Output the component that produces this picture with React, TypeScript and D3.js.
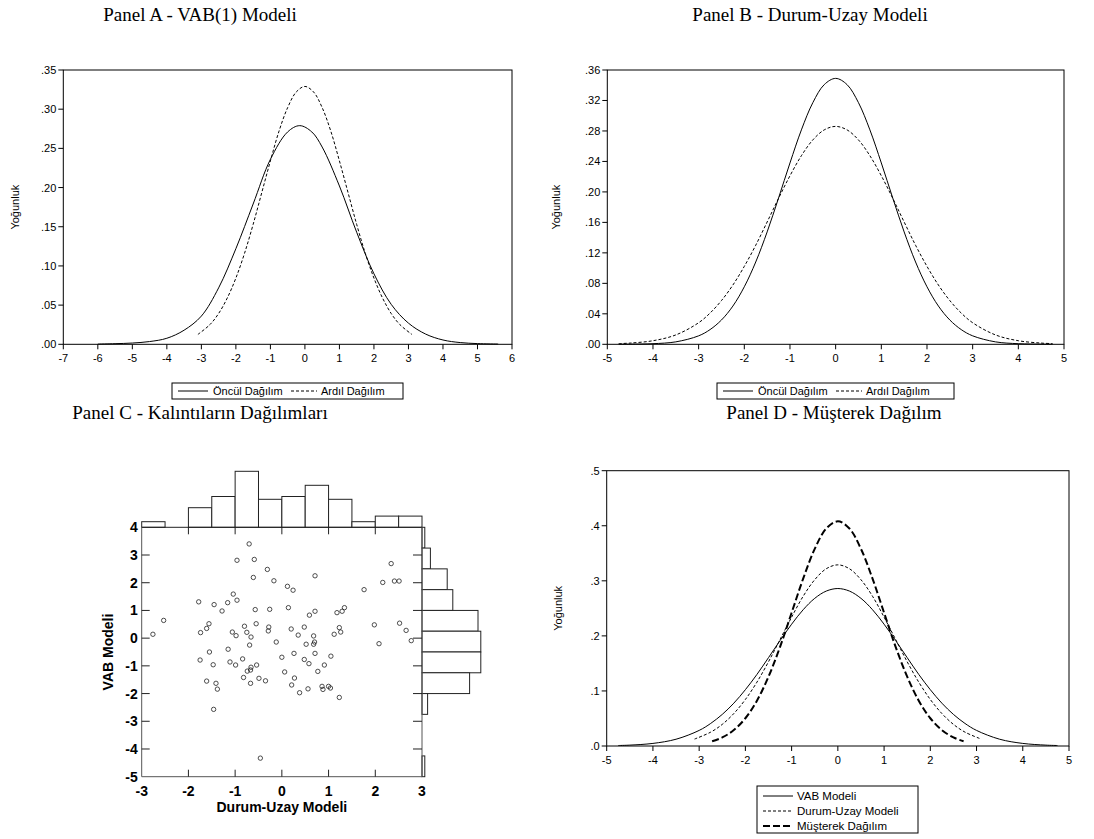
import React from 'react';
import * as d3 from 'd3';

const W = 1094;
const H = 839;

// ---------- Panel A: VAB(1) Modeli ----------
const aPriorX = [-6, -5.5, -5, -4.5, -4, -3.5, -3, -2.5, -2, -1.5, -1, -0.5, -0.15, 0.2, 0.5, 1, 1.5, 2, 2.5, 3, 3.5, 4, 4.5, 5, 5.6];
const aPriorY = [0.0003, 0.0008, 0.0016, 0.0035, 0.0077, 0.018, 0.036, 0.072, 0.122, 0.179, 0.236, 0.271, 0.279, 0.271, 0.2517, 0.202, 0.143, 0.09, 0.051, 0.027, 0.013, 0.0055, 0.0022, 0.0009, 0.0003];
const aPostX = [-3.1, -2.75, -2.5, -2.25, -2, -1.75, -1.5, -1.25, -1, -0.75, -0.5, -0.25, 0, 0.25, 0.5, 0.75, 1, 1.25, 1.5, 1.75, 2, 2.25, 2.5, 2.75, 3.1];
const aPostY = [0.0126, 0.0252, 0.0393, 0.059, 0.0845, 0.116, 0.153, 0.1935, 0.234, 0.272, 0.302, 0.322, 0.329, 0.322, 0.302, 0.272, 0.234, 0.1935, 0.153, 0.116, 0.0845, 0.059, 0.0393, 0.0252, 0.0126];
const aXTicks = [-7, -6, -5, -4, -3, -2, -1, 0, 1, 2, 3, 4, 5, 6];
const aYTicks = [0, 0.05, 0.1, 0.15, 0.2, 0.25, 0.3, 0.35];

// ---------- Panel B: Durum-Uzay Modeli ----------
const bX = [-4.75, -4.5, -4, -3.5, -3, -2.75, -2.5, -2.25, -2, -1.75, -1.5, -1.25, -1, -0.75, -0.5, -0.25, 0, 0.25, 0.5, 0.75, 1, 1.25, 1.5, 1.75, 2, 2.25, 2.5, 2.75, 3, 3.5, 4, 4.5, 4.75];
const bPriorY = [0.0001, 0.0002, 0.0008, 0.0032, 0.0111, 0.0193, 0.0319, 0.0502, 0.0755, 0.108, 0.1475, 0.192, 0.238, 0.2814, 0.3171, 0.3408, 0.349, 0.3408, 0.3171, 0.2814, 0.238, 0.192, 0.1475, 0.108, 0.0755, 0.0502, 0.0319, 0.0193, 0.0111, 0.0032, 0.0008, 0.0002, 0.0001];
const bPostY = [0.0009, 0.0016, 0.0047, 0.0123, 0.0283, 0.041, 0.0574, 0.0778, 0.1023, 0.13, 0.1605, 0.1916, 0.2212, 0.2475, 0.2682, 0.2814, 0.286, 0.2814, 0.2682, 0.2475, 0.2212, 0.1916, 0.1605, 0.13, 0.1023, 0.0778, 0.0574, 0.041, 0.0283, 0.0123, 0.0047, 0.0016, 0.0009];
const bXTicks = [-5, -4, -3, -2, -1, 0, 1, 2, 3, 4, 5];
const bYTicks = [0, 0.04, 0.08, 0.12, 0.16, 0.2, 0.24, 0.28, 0.32, 0.36];

// ---------- Panel D: Müşterek Dağılım ----------
const dVabX = bX;
const dVabY = bPostY;
const dDuX = aPostX;
const dDuY = aPostY;
const dJointX = [-2.72, -2.5, -2.25, -2, -1.75, -1.5, -1.25, -1, -0.75, -0.5, -0.25, 0, 0.25, 0.5, 0.75, 1, 1.25, 1.5, 1.75, 2, 2.25, 2.5, 2.72];
const dJointY = [0.0085, 0.0155, 0.0289, 0.0504, 0.0823, 0.1259, 0.18, 0.242, 0.304, 0.358, 0.395, 0.408, 0.395, 0.358, 0.304, 0.242, 0.18, 0.1259, 0.0823, 0.0504, 0.0289, 0.0155, 0.0085];
const dXTicks = [-5, -4, -3, -2, -1, 0, 1, 2, 3, 4, 5];
const dYTicks = [0, 0.1, 0.2, 0.3, 0.4, 0.5];

// ---------- Panel C: Kalıntıların Dağılımları ----------
const residDU = [
  -0.70, -0.96, -0.59, -0.31, -0.61, -0.17, -1.04, -1.78, -0.96, -1.16, -1.45, -1.28, -0.57, -0.26, -2.53, -1.56, -0.55, -1.61, -0.80, -0.28, -1.74, -1.06, -0.75, -0.29, -2.76, -0.98, -0.66, -0.12, -0.69, -1.55, -1.15,
  -1.75, -1.47, -1.11, -0.99, -0.84, -0.54, -0.66, -0.67, -0.74, -1.61, -0.82, -0.49, -0.35, -1.41, -0.67, -1.38, -1.46, -0.46,
  2.34, 0.71, 0.12, 0.24, 1.76, 2.16, 2.41, 2.51, 0.14, 0.71, 0.59, 1.34, 1.29, 1.18, 0.20, 0.48, 0.35, 0.68, 1.23, 1.26, 1.12, 1.98, 2.52, 2.66, 2.77, 0.52, 0.70, 0.68, 2.08,
  0.0, 0.26, 0.71, 1.05, 0.48, 0.58, 0.91, 0.06, 0.77, 0.27, 0.21, 0.56, 0.38, 0.86, 0.88, 1.0, 1.04, 1.23,
];
const residVAB = [
  3.40, 2.81, 2.84, 2.48, 2.19, 2.07, 1.59, 1.31, 1.37, 1.28, 1.21, 0.98, 1.03, 1.04, 0.64, 0.52, 0.52, 0.35, 0.43, 0.40, 0.20, 0.22, 0.21, 0.26, 0.14, 0.09, 0.04, -0.14, -0.25, -0.50, -0.40,
  -0.79, -0.96, -0.86, -0.97, -0.75, -0.97, -1.05, -1.15, -1.19, -1.55, -1.42, -1.45, -1.54, -1.63, -1.63, -1.84, -2.57, -4.33,
  2.69, 2.25, 1.87, 1.73, 1.75, 2.01, 2.06, 2.06, 1.10, 0.97, 0.83, 1.10, 0.97, 0.92, 0.33, 0.40, 0.11, 0.08, 0.38, 0.22, 0.14, 0.48, 0.54, 0.28, -0.09, -0.22, -0.14, -0.22, -0.20,
  -0.69, -0.55, -0.55, -0.65, -0.77, -0.92, -0.97, -1.22, -1.20, -1.44, -1.69, -1.83, -1.97, -1.74, -1.85, -1.74, -1.80, -2.14,
];
const topHistEdges = [-3, -2.5, -2, -1.5, -1, -0.5, 0, 0.5, 1, 1.5, 2, 2.5, 3];
const topHistCounts = [2, 0, 7, 11, 20, 10, 11, 15, 10, 2, 4, 4];
const rightHistEdges = [4, 3.25, 2.5, 1.75, 1, 0.25, -0.5, -1.25, -2, -2.75, -3.5, -4.25, -5];
const rightHistCounts = [1, 3, 9, 11, 20, 21, 21, 17, 2, 0, 0, 1];
const cXTicks = [-3, -2, -1, 0, 1, 2, 3];
const cYTicks = [4, 3, 2, 1, 0, -1, -2, -3, -4, -5];

const SANS = '"Liberation Sans", Arial, sans-serif';
const SERIF = '"Liberation Serif", "Times New Roman", serif';

type Box = { l: number; r: number; t: number; b: number };
type Series = { xs: number[]; ys: number[]; dash?: string; width?: number };

function fmtDec(v: number, digits: number) {
  const s = v.toFixed(digits);
  return s.startsWith('0') ? s.slice(1) : s;
}

function DensityPanel(props: {
  box: Box;
  xDomain: [number, number];
  yDomain: [number, number];
  xTicks: number[];
  yTicks: number[];
  yDigits: number;
  series: Series[];
  ylabelX: number;
}) {
  const { box, xDomain, yDomain, xTicks, yTicks, yDigits, series, ylabelX } = props;
  const x = d3.scaleLinear().domain(xDomain).range([box.l, box.r]);
  const y = d3.scaleLinear().domain(yDomain).range([box.b, box.t]);
  const mk = (s: Series) =>
    d3
      .line<number>()
      .x((_, i) => x(s.xs[i]))
      .y((d) => y(d))
      .curve(d3.curveCatmullRom.alpha(0.5))(s.ys) || '';
  return (
    <g>
      {series.map((s, i) => (
        <path key={i} d={mk(s)} fill="none" stroke="#000" strokeWidth={s.width ?? 1} strokeDasharray={s.dash} />
      ))}
      <rect x={box.l} y={box.t} width={box.r - box.l} height={box.b - box.t} fill="none" stroke="#000" strokeWidth={1} />
      {xTicks.map((t) => (
        <g key={'x' + t}>
          <line x1={x(t)} x2={x(t)} y1={box.b} y2={box.b + 5} stroke="#000" />
          <text x={x(t)} y={box.b + 18} textAnchor="middle" fontSize={11} fontFamily={SANS}>
            {String(t)}
          </text>
        </g>
      ))}
      {yTicks.map((t) => (
        <g key={'y' + t}>
          <line x1={box.l - 5} x2={box.l} y1={y(t)} y2={y(t)} stroke="#000" />
          <text x={box.l - 7} y={y(t) + 4} textAnchor="end" fontSize={11} fontFamily={SANS}>
            {fmtDec(t, yDigits)}
          </text>
        </g>
      ))}
      <text
        transform={`translate(${ylabelX},${(box.t + box.b) / 2}) rotate(-90)`}
        textAnchor="middle"
        fontSize={11}
        fontFamily={SANS}
      >
        Yoğunluk
      </text>
    </g>
  );
}

function HLegend(props: { x: number; y: number; w: number }) {
  const { x, y, w } = props;
  const h = 16;
  const cy = y + h / 2;
  return (
    <g fontFamily={SANS} fontSize={11}>
      <rect x={x} y={y} width={w} height={h} fill="#fff" stroke="#000" />
      <line x1={x + 6} x2={x + 36} y1={cy} y2={cy} stroke="#000" />
      <text x={x + 41} y={cy + 4}>Öncül Dağılım</text>
      <line x1={x + 119} x2={x + 145} y1={cy} y2={cy} stroke="#000" strokeDasharray="3,2" />
      <text x={x + 149} y={cy + 4}>Ardıl Dağılım</text>
    </g>
  );
}

function DLegend() {
  const x = 757;
  const y = 786;
  const rows = [
    { label: 'VAB Modeli', dash: undefined as string | undefined, w: 1 },
    { label: 'Durum-Uzay Modeli', dash: '3,2', w: 1 },
    { label: 'Müşterek Dağılım', dash: '7,3', w: 2 },
  ];
  return (
    <g fontFamily={SANS} fontSize={11.5}>
      <rect x={x} y={y} width={161} height={47} fill="#fff" stroke="#000" />
      {rows.map((r, i) => {
        const cy = y + 10 + i * 15;
        return (
          <g key={i}>
            <line x1={x + 6} x2={x + 36} y1={cy} y2={cy} stroke="#000" strokeWidth={r.w} strokeDasharray={r.dash} />
            <text x={x + 40} y={cy + 4}>{r.label}</text>
          </g>
        );
      })}
    </g>
  );
}

function PanelC() {
  const box: Box = { l: 141.7, r: 422, t: 527.3, b: 776.7 };
  const x = d3.scaleLinear().domain([-3, 3]).range([box.l, box.r]);
  const y = d3.scaleLinear().domain([-5, 4]).range([box.b, box.t]);
  const cnt = d3.scaleLinear().domain([0, 20]).range([0, 56]);
  const axisCol = '#555';
  return (
    <g>
      {topHistCounts.map((c, i) =>
        c > 0 ? (
          <rect
            key={'th' + i}
            x={x(topHistEdges[i])}
            y={box.t - cnt(c)}
            width={x(topHistEdges[i + 1]) - x(topHistEdges[i])}
            height={cnt(c)}
            fill="#fff"
            stroke="#222"
            strokeWidth={1}
          />
        ) : null
      )}
      {rightHistCounts.map((c, i) =>
        c > 0 ? (
          <rect
            key={'rh' + i}
            x={box.r}
            y={y(rightHistEdges[i])}
            width={cnt(c)}
            height={y(rightHistEdges[i + 1]) - y(rightHistEdges[i])}
            fill="#fff"
            stroke="#222"
            strokeWidth={1}
          />
        ) : null
      )}
      <line x1={box.l} x2={box.r} y1={box.t} y2={box.t} stroke="#222" />
      <line x1={box.r} x2={box.r} y1={box.t} y2={box.b} stroke={axisCol} />
      <line x1={box.l} x2={box.l} y1={box.t} y2={box.b} stroke={axisCol} />
      <line x1={box.l} x2={box.r} y1={box.b} y2={box.b} stroke={axisCol} />
      {cXTicks.slice(1, -1).map((t) => (
        <g key={'cx' + t}>
          <line x1={x(t)} x2={x(t)} y1={box.b} y2={box.b - 7} stroke="#222" />
          <line x1={x(t)} x2={x(t)} y1={box.t} y2={box.t + 7} stroke="#222" />
        </g>
      ))}
      {cYTicks.slice(1, -1).map((t) => (
        <g key={'cy' + t}>
          <line x1={box.l} x2={box.l + 8} y1={y(t)} y2={y(t)} stroke="#222" />
          <line x1={box.r} x2={box.r - 9} y1={y(t)} y2={y(t)} stroke="#222" />
        </g>
      ))}
      {cXTicks.map((t) => (
        <text key={'cxl' + t} x={x(t)} y={box.b + 19} textAnchor="middle" fontSize={14} fontWeight="bold" fontFamily={SANS}>
          {String(t)}
        </text>
      ))}
      {cYTicks.map((t) => (
        <text key={'cyl' + t} x={box.l - 4} y={y(t) + 5} textAnchor="end" fontSize={14} fontWeight="bold" fontFamily={SANS}>
          {String(t)}
        </text>
      ))}
      {residDU.map((v, i) => (
        <circle key={'p' + i} cx={x(v)} cy={y(residVAB[i])} r={2.2} fill="none" stroke="#222" strokeWidth={0.8} />
      ))}
      <text x={x(0)} y={box.b + 35} textAnchor="middle" fontSize={14} fontWeight="bold" fontFamily={SANS}>
        Durum-Uzay Modeli
      </text>
      <text
        transform={`translate(${box.l - 29},${(box.t + box.b) / 2}) rotate(-90)`}
        textAnchor="middle"
        fontSize={14}
        fontWeight="bold"
        fontFamily={SANS}
      >
        VAB Modeli
      </text>
    </g>
  );
}

export default function App() {
  return (
    <svg
      width={W}
      height={H}
      viewBox={`0 0 ${W} ${H}`}
      style={{ position: 'absolute', left: 0, top: 0, background: '#fff' }}
    >
      <rect x={0} y={0} width={W} height={H} fill="#fff" />
      <g fontFamily={SERIF} fontSize={19} textAnchor="middle">
        <text x={200} y={21}>Panel A - VAB(1) Modeli</text>
        <text x={810} y={21}>Panel B - Durum-Uzay Modeli</text>
        <text x={200} y={419}>Panel C - Kalıntıların Dağılımları</text>
        <text x={834} y={419}>Panel D - Müşterek Dağılım</text>
      </g>
      <DensityPanel
        box={{ l: 63.3, r: 512, t: 70, b: 344.3 }}
        xDomain={[-7, 6]}
        yDomain={[0, 0.35]}
        xTicks={aXTicks}
        yTicks={aYTicks}
        yDigits={2}
        series={[
          { xs: aPriorX, ys: aPriorY },
          { xs: aPostX, ys: aPostY, dash: '3,2' },
        ]}
        ylabelX={19}
      />
      <HLegend x={172} y={383} w={231} />
      <DensityPanel
        box={{ l: 607.3, r: 1064, t: 70, b: 344.3 }}
        xDomain={[-5, 5]}
        yDomain={[0, 0.36]}
        xTicks={bXTicks}
        yTicks={bYTicks}
        yDigits={2}
        series={[
          { xs: bX, ys: bPriorY },
          { xs: bX, ys: bPostY, dash: '3,2' },
        ]}
        ylabelX={560}
      />
      <HLegend x={717} y={383} w={237} />
      <PanelC />
      <DensityPanel
        box={{ l: 606.7, r: 1069, t: 470.7, b: 746 }}
        xDomain={[-5, 5]}
        yDomain={[0, 0.5]}
        xTicks={dXTicks}
        yTicks={dYTicks}
        yDigits={1}
        series={[
          { xs: dVabX, ys: dVabY },
          { xs: dDuX, ys: dDuY, dash: '3,2' },
          { xs: dJointX, ys: dJointY, dash: '7,3', width: 2 },
        ]}
        ylabelX={562}
      />
      <DLegend />
    </svg>
  );
}
